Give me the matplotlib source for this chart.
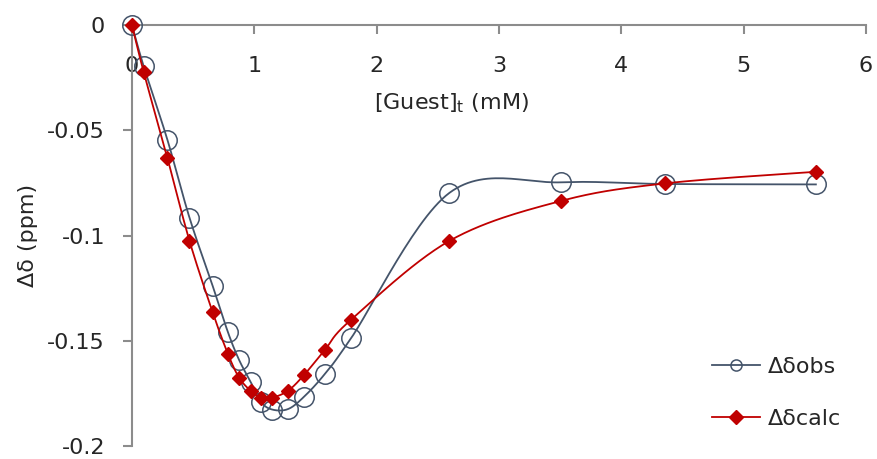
import numpy as np
import matplotlib.pyplot as plt
from matplotlib.lines import Line2D

plt.rcParams['font.family'] = ['DejaVu Sans']

# Total guest concentration (mM) and chemical shift changes (ppm)
guest_mM = [0.0, 0.095, 0.29, 0.47, 0.66, 0.785, 0.875, 0.97, 1.055,
            1.145, 1.275, 1.405, 1.575, 1.79, 2.595, 3.51, 4.36, 5.59]
dd_obs = [0.0, -0.0195, -0.0546, -0.0915, -0.124, -0.146, -0.159, -0.1695,
          -0.179, -0.1826, -0.1824, -0.1766, -0.1658, -0.1488, -0.0797,
          -0.0747, -0.0755, -0.0757]
dd_calc = [0.0, -0.0222, -0.0633, -0.1025, -0.1365, -0.1563, -0.1674,
           -0.1737, -0.177, -0.177, -0.1737, -0.1663, -0.1544, -0.140,
           -0.1025, -0.0835, -0.0752, -0.0697]

x_ticks = [0, 1, 2, 3, 4, 5, 6]
y_ticks = [0, -0.05, -0.1, -0.15, -0.2]
y_tick_labels = ['0', '-0.05', '-0.1', '-0.15', '-0.2']

OBS_COLOR = '#44546A'
CALC_COLOR = '#C00000'
AXIS_COLOR = '#8C8C8C'
TEXT_COLOR = '#262626'
FS = 16


def smooth_curve(x, y, n=30):
    """Spreadsheet-style smoothed line: cubic Bezier through each point,
    control points from neighbouring points (Catmull-Rom, factor 1/6)."""
    p = np.column_stack([x, y]).astype(float)
    p = np.vstack([p[0], p, p[-1]])
    t = np.linspace(0, 1, n)[:, None]
    out = []
    for i in range(1, len(p) - 2):
        p0, p1, p2, p3 = p[i - 1], p[i], p[i + 1], p[i + 2]
        c1 = p1 + (p2 - p0) / 6
        c2 = p2 - (p3 - p1) / 6
        seg = ((1 - t) ** 3 * p1 + 3 * (1 - t) ** 2 * t * c1
               + 3 * (1 - t) * t ** 2 * c2 + t ** 3 * p2)
        out.append(seg if i == 1 else seg[1:])
    out = np.vstack(out)
    return out[:, 0], out[:, 1]


fig = plt.figure(figsize=(8.77, 4.59), dpi=100)
ax = fig.add_axes([0.1505, 0.028, 0.837, 0.9175])

xs, ys = smooth_curve(guest_mM, dd_obs)
ax.plot(xs, ys, color=OBS_COLOR, lw=1.3, zorder=3, clip_on=False)
ax.plot(guest_mM, dd_obs, ls='none', marker='o', ms=14, mfc='none',
        mec=OBS_COLOR, mew=1.1, zorder=4, clip_on=False)

xs, ys = smooth_curve(guest_mM, dd_calc)
ax.plot(xs, ys, color=CALC_COLOR, lw=1.3, zorder=5, clip_on=False)
ax.plot(guest_mM, dd_calc, ls='none', marker='D', ms=7.5, color=CALC_COLOR,
        zorder=6, clip_on=False)

ax.set_xlim(0, 6)
ax.set_ylim(-0.2, 0)
ax.set_xticks(x_ticks)
ax.set_yticks(y_ticks)
ax.set_yticklabels(y_tick_labels)

for side in ['top', 'right']:
    ax.spines[side].set_visible(False)
ax.spines['bottom'].set_position(('data', 0))
for side in ['left', 'bottom']:
    ax.spines[side].set_color(AXIS_COLOR)
    ax.spines[side].set_linewidth(1.5)
    ax.spines[side].set_zorder(2)

ax.tick_params(axis='both', direction='out', length=6.5, width=1.5,
               color=AXIS_COLOR, labelsize=FS, labelcolor=TEXT_COLOR)
ax.tick_params(axis='x', pad=16)
ax.tick_params(axis='y', pad=13)

ax.text(-0.1417, 0.5, 'Δδ (ppm)', transform=ax.transAxes, rotation=90,
        ha='center', va='center', fontsize=FS, color=TEXT_COLOR)
ax.text(0.4346, 0.815, r'[Guest]$_\mathregular{t}$ (mM)', transform=ax.transAxes,
        ha='center', va='center', fontsize=FS, color=TEXT_COLOR)

handles = [
    Line2D([], [], color=OBS_COLOR, lw=1.3, marker='o', ms=8, mfc='none',
           mec=OBS_COLOR, mew=1.1),
    Line2D([], [], color=CALC_COLOR, lw=1.3, marker='D', ms=7),
]
ax.legend(handles, ['Δδobs', 'Δδcalc'], loc='upper left',
          bbox_to_anchor=(0.79, 0.2114), frameon=False, fontsize=FS,
          borderpad=0, borderaxespad=0, handlelength=2.16,
          handletextpad=0.36, labelspacing=1.43, labelcolor=TEXT_COLOR)

fig.savefig('out.png', dpi=100)
